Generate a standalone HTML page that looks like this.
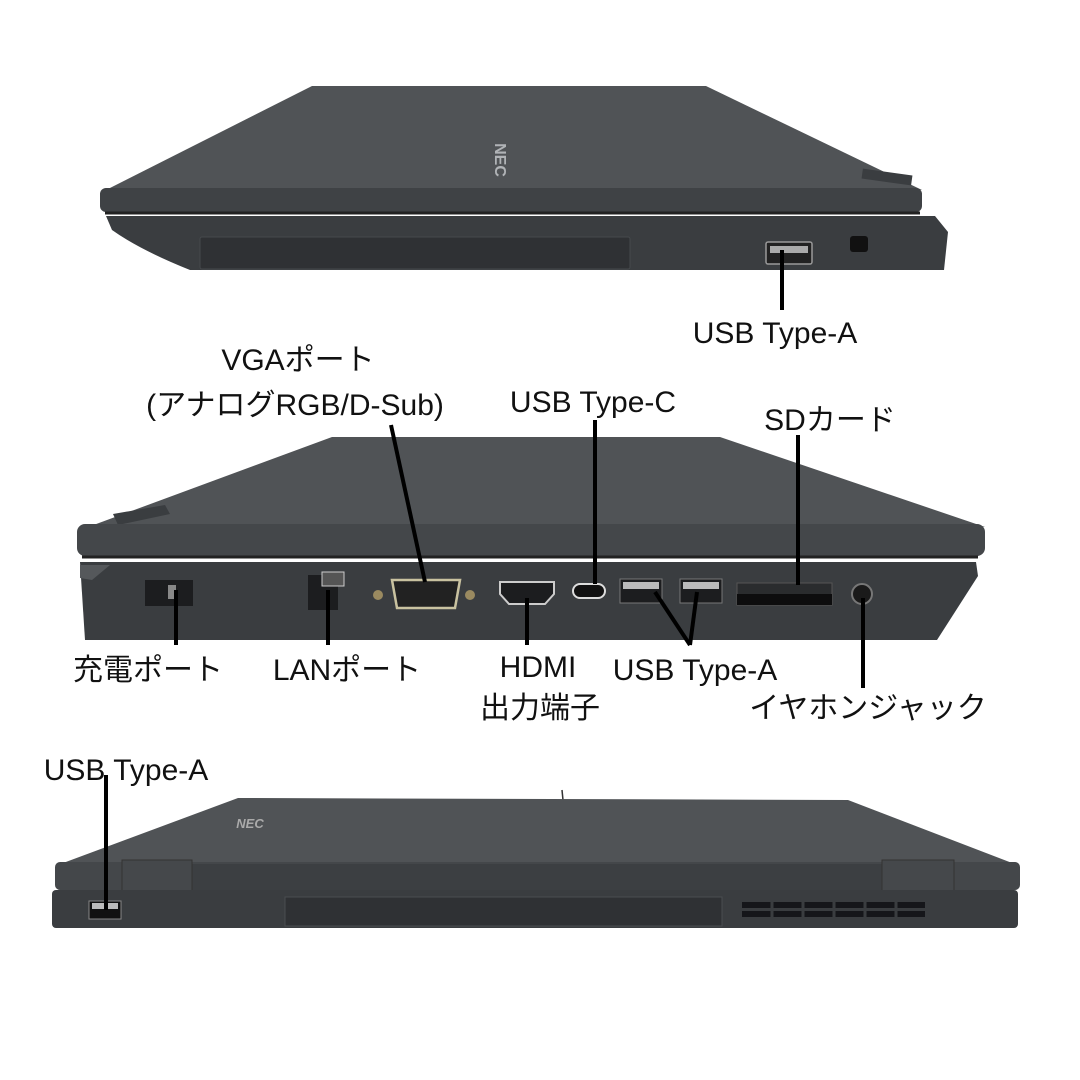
<!DOCTYPE html>
<html><head><meta charset="utf-8"><style>
html,body{margin:0;padding:0;background:#fff;width:1080px;height:1080px;overflow:hidden}
svg{display:block}
text{font-family:"Liberation Sans","Noto Sans CJK JP",sans-serif;font-size:30px;fill:#111;text-anchor:middle}
</style></head><body>
<svg width="1080" height="1080" viewBox="0 0 1080 1080">
<!-- TOP LAPTOP -->
<polygon points="102,192 312,86 706,86 922,190" fill="#505356"/>
<rect x="100" y="188" width="822" height="24" rx="6" fill="#3f4245"/>
<line x1="105" y1="213" x2="920" y2="213" stroke="#222" stroke-width="3"/>
<path d="M106,216 L935,216 L948,232 L944,270 L190,270 Q140,250 112,230 Z" fill="#3a3d40"/>
<rect x="200" y="237" width="430" height="32" rx="2" fill="#2f3134" stroke="#46494c"/>
<rect x="862" y="172" width="50" height="10" fill="#3a3d40" transform="rotate(8 887 177)"/>
<text x="500" y="165" transform="rotate(90 500 160)" style="fill:#b0b3b6;font-size:16px;font-weight:bold">NEC</text>
<rect x="766" y="242" width="46" height="22" rx="2" fill="#222" stroke="#999" stroke-width="1.5"/>
<rect x="770" y="246" width="38" height="7" fill="#aaa"/>
<rect x="850" y="236" width="18" height="16" rx="3" fill="#111"/>
<line x1="782" y1="250" x2="782" y2="310" stroke="#000" stroke-width="4"/>
<text x="775" y="343">USB Type-A</text>

<!-- MIDDLE LAPTOP -->
<polygon points="80,530 332,437 720,437 985,527" fill="#505356"/>
<polygon points="113,514 165,505 170,514 118,525" fill="#3a3d40"/>
<rect x="77" y="524" width="908" height="32" rx="8" fill="#44474a"/>
<line x1="82" y1="557" x2="978" y2="557" stroke="#222" stroke-width="3"/>
<path d="M80,562 L976,562 L978,576 L937,640 L85,640 Z" fill="#3a3d40"/>
<polygon points="80,565 110,565 92,580 80,578" fill="#55585b"/>
<rect x="145" y="580" width="48" height="26" fill="#1c1d1f"/>
<rect x="168" y="585" width="8" height="14" fill="#888"/>
<rect x="308" y="575" width="30" height="35" fill="#1c1d1f"/>
<rect x="322" y="572" width="22" height="14" fill="#555" stroke="#ccc"/>
<circle cx="378" cy="595" r="5" fill="#9a8a60"/><circle cx="470" cy="595" r="5" fill="#9a8a60"/>
<path d="M392,580 L460,580 L455,608 L397,608 Z" fill="#222" stroke="#c9c2a0" stroke-width="2.5"/>
<path d="M500,582 L554,582 L554,594 L545,604 L509,604 L500,594 Z" fill="#1c1d1f" stroke="#ccc" stroke-width="2"/>
<rect x="573" y="584" width="32" height="14" rx="7" fill="#111" stroke="#ddd" stroke-width="2"/>
<rect x="620" y="579" width="42" height="24" fill="#1c1d1f" stroke="#777"/>
<rect x="623" y="582" width="36" height="7" fill="#bbb"/>
<rect x="680" y="579" width="42" height="24" fill="#1c1d1f" stroke="#777"/>
<rect x="683" y="582" width="36" height="7" fill="#bbb"/>
<rect x="737" y="583" width="95" height="22" fill="#2a2c2e" stroke="#555"/>
<rect x="737" y="594" width="95" height="11" fill="#0d0d0e"/>
<circle cx="862" cy="594" r="10" fill="#1a1a1a" stroke="#777" stroke-width="2"/>

<g stroke="#000" stroke-width="4" fill="none">
<line x1="176" y1="590" x2="176" y2="645"/>
<line x1="328" y1="590" x2="328" y2="645"/>
<line x1="391" y1="425" x2="425" y2="582"/>
<line x1="527" y1="598" x2="527" y2="645"/>
<line x1="595" y1="420" x2="595" y2="584"/>
<line x1="655" y1="592" x2="690" y2="645"/>
<line x1="697" y1="592" x2="690" y2="645"/>
<line x1="798" y1="435" x2="798" y2="585"/>
<line x1="863" y1="598" x2="863" y2="688"/>
</g>
<text x="298" y="370">VGAポート</text>
<text x="295" y="415">(アナログRGB/D-Sub)</text>
<text x="593" y="412">USB Type-C</text>
<text x="830" y="430">SDカード</text>
<text x="148" y="680">充電ポート</text>
<text x="347" y="680">LANポート</text>
<text x="538" y="677">HDMI</text>
<text x="540" y="718">出力端子</text>
<text x="695" y="680">USB Type-A</text>
<text x="868" y="718">イヤホンジャック</text>
<text x="126" y="780">USB Type-A</text>

<!-- BOTTOM LAPTOP -->
<line x1="562" y1="790" x2="563" y2="800" stroke="#333" stroke-width="1.5"/>
<polygon points="55,866 238,798 848,800 1020,866" fill="#505356"/>
<text x="250" y="828" style="fill:#aaa;font-size:13px;font-style:italic;font-weight:bold">NEC</text>
<rect x="55" y="862" width="965" height="28" rx="5" fill="#44474a"/>
<rect x="190" y="864" width="692" height="26" fill="#3c3f42"/>
<rect x="122" y="860" width="70" height="34" fill="#45484b" stroke="#333"/>
<rect x="882" y="860" width="72" height="34" fill="#45484b" stroke="#333"/>
<rect x="52" y="890" width="966" height="38" rx="4" fill="#3a3d40"/>
<rect x="285" y="897" width="437" height="29" fill="#2f3134" stroke="#4a4d50"/>
<rect x="89" y="901" width="32" height="18" fill="#111" stroke="#888"/>
<rect x="92" y="903" width="26" height="6" fill="#bbb"/>
<g fill="#15161a">
<rect x="742" y="902" width="183" height="6"/>
<rect x="742" y="911" width="183" height="6"/>
</g>
<g stroke="#3a3d40" stroke-width="3">
<line x1="772" y1="900" x2="772" y2="920"/><line x1="803" y1="900" x2="803" y2="920"/>
<line x1="834" y1="900" x2="834" y2="920"/><line x1="865" y1="900" x2="865" y2="920"/>
<line x1="896" y1="900" x2="896" y2="920"/>
</g>
<line x1="106" y1="775" x2="106" y2="910" stroke="#000" stroke-width="4"/>
</svg>
</body></html>
